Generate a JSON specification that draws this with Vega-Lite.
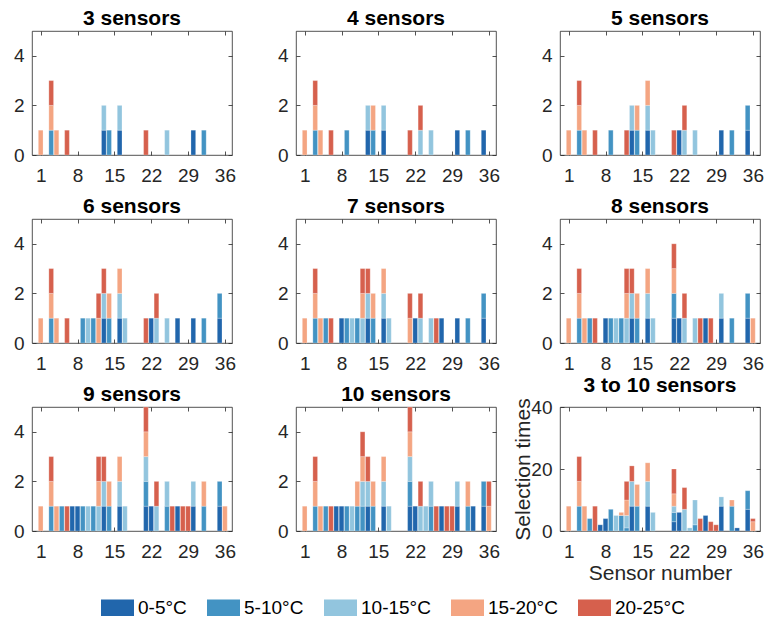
{
  "$schema": "https://vega.github.io/schema/vega-lite/v6.json",
  "padding": {"left": 13, "top": 7, "right": 4, "bottom": 4},
  "background": "white",
  "config": {
    "font": "Liberation Sans",
    "view": {"stroke": "#262626", "strokeWidth": 0.8},
    "axis": {"domain": false, "grid": false, "tickSize": -4, "tickColor": "#262626", "tickWidth": 0.8, "labelColor": "#262626", "labelFontSize": 19, "labelFlush": false, "labelOverlap": false, "titleFontSize": 21, "titleFontWeight": "normal", "titleColor": "#262626"},
    "axisX": {"labelPadding": 15, "titlePadding": 1},
    "axisY": {"labelPadding": 12, "titlePadding": -3},
    "title": {"fontSize": 21, "fontWeight": "bold", "color": "#000000", "offset": 2, "frame": "group"},
    "legend": {"orient": "none", "legendX": 69, "legendY": 560, "direction": "horizontal", "symbolType": "M-1,-0.5H1V0.5H-1Z", "symbolSize": 1089, "symbolStrokeWidth": 0, "symbolOpacity": 1, "labelFontSize": 19, "labelColor": "#000000", "labelOffset": 4, "columnPadding": 20}
  },
  "datasets": {
    "ranges": [
      {"t": "0-5°C", "k": 1}, {"t": "5-10°C", "k": 2}, {"t": "10-15°C", "k": 3}, {"t": "15-20°C", "k": 4}, {"t": "20-25°C", "k": 5}
    ],
    "sel": [
      {"n":3,"s":13,"t":"0-5°C","v":1},{"n":3,"s":16,"t":"0-5°C","v":1},{"n":3,"s":30,"t":"0-5°C","v":1},
      {"n":3,"s":3,"t":"5-10°C","v":1},{"n":3,"s":14,"t":"5-10°C","v":1},{"n":3,"s":32,"t":"5-10°C","v":1},
      {"n":3,"s":13,"t":"10-15°C","v":1},{"n":3,"s":16,"t":"10-15°C","v":1},{"n":3,"s":25,"t":"10-15°C","v":1},
      {"n":3,"s":1,"t":"15-20°C","v":1},{"n":3,"s":3,"t":"15-20°C","v":1},{"n":3,"s":4,"t":"15-20°C","v":1},
      {"n":3,"s":3,"t":"20-25°C","v":1},{"n":3,"s":6,"t":"20-25°C","v":1},{"n":3,"s":21,"t":"20-25°C","v":1},

      {"n":4,"s":13,"t":"0-5°C","v":1},{"n":4,"s":16,"t":"0-5°C","v":1},{"n":4,"s":30,"t":"0-5°C","v":1},{"n":4,"s":35,"t":"0-5°C","v":1},
      {"n":4,"s":3,"t":"5-10°C","v":1},{"n":4,"s":9,"t":"5-10°C","v":1},{"n":4,"s":14,"t":"5-10°C","v":1},{"n":4,"s":32,"t":"5-10°C","v":1},
      {"n":4,"s":13,"t":"10-15°C","v":1},{"n":4,"s":16,"t":"10-15°C","v":1},{"n":4,"s":23,"t":"10-15°C","v":1},{"n":4,"s":25,"t":"10-15°C","v":1},
      {"n":4,"s":1,"t":"15-20°C","v":1},{"n":4,"s":3,"t":"15-20°C","v":1},{"n":4,"s":4,"t":"15-20°C","v":1},{"n":4,"s":14,"t":"15-20°C","v":1},
      {"n":4,"s":3,"t":"20-25°C","v":1},{"n":4,"s":6,"t":"20-25°C","v":1},{"n":4,"s":21,"t":"20-25°C","v":1},{"n":4,"s":23,"t":"20-25°C","v":1},

      {"n":5,"s":13,"t":"0-5°C","v":1},{"n":5,"s":16,"t":"0-5°C","v":1},{"n":5,"s":22,"t":"0-5°C","v":1},{"n":5,"s":30,"t":"0-5°C","v":1},{"n":5,"s":35,"t":"0-5°C","v":1},
      {"n":5,"s":3,"t":"5-10°C","v":1},{"n":5,"s":9,"t":"5-10°C","v":1},{"n":5,"s":14,"t":"5-10°C","v":1},{"n":5,"s":32,"t":"5-10°C","v":1},{"n":5,"s":35,"t":"5-10°C","v":1},
      {"n":5,"s":13,"t":"10-15°C","v":1},{"n":5,"s":16,"t":"10-15°C","v":1},{"n":5,"s":17,"t":"10-15°C","v":1},{"n":5,"s":23,"t":"10-15°C","v":1},{"n":5,"s":25,"t":"10-15°C","v":1},
      {"n":5,"s":1,"t":"15-20°C","v":1},{"n":5,"s":3,"t":"15-20°C","v":1},{"n":5,"s":4,"t":"15-20°C","v":1},{"n":5,"s":14,"t":"15-20°C","v":1},{"n":5,"s":16,"t":"15-20°C","v":1},
      {"n":5,"s":3,"t":"20-25°C","v":1},{"n":5,"s":6,"t":"20-25°C","v":1},{"n":5,"s":12,"t":"20-25°C","v":1},{"n":5,"s":21,"t":"20-25°C","v":1},{"n":5,"s":23,"t":"20-25°C","v":1},

      {"n":6,"s":13,"t":"0-5°C","v":1},{"n":6,"s":16,"t":"0-5°C","v":1},{"n":6,"s":22,"t":"0-5°C","v":1},{"n":6,"s":27,"t":"0-5°C","v":1},{"n":6,"s":30,"t":"0-5°C","v":1},{"n":6,"s":35,"t":"0-5°C","v":1},
      {"n":6,"s":3,"t":"5-10°C","v":1},{"n":6,"s":9,"t":"5-10°C","v":1},{"n":6,"s":11,"t":"5-10°C","v":1},{"n":6,"s":14,"t":"5-10°C","v":1},{"n":6,"s":32,"t":"5-10°C","v":1},{"n":6,"s":35,"t":"5-10°C","v":1},
      {"n":6,"s":10,"t":"10-15°C","v":1},{"n":6,"s":13,"t":"10-15°C","v":1},{"n":6,"s":16,"t":"10-15°C","v":1},{"n":6,"s":17,"t":"10-15°C","v":1},{"n":6,"s":23,"t":"10-15°C","v":1},{"n":6,"s":25,"t":"10-15°C","v":1},
      {"n":6,"s":1,"t":"15-20°C","v":1},{"n":6,"s":3,"t":"15-20°C","v":1},{"n":6,"s":4,"t":"15-20°C","v":1},{"n":6,"s":12,"t":"15-20°C","v":1},{"n":6,"s":14,"t":"15-20°C","v":1},{"n":6,"s":16,"t":"15-20°C","v":1},
      {"n":6,"s":3,"t":"20-25°C","v":1},{"n":6,"s":6,"t":"20-25°C","v":1},{"n":6,"s":12,"t":"20-25°C","v":1},{"n":6,"s":13,"t":"20-25°C","v":1},{"n":6,"s":21,"t":"20-25°C","v":1},{"n":6,"s":23,"t":"20-25°C","v":1},

      {"n":7,"s":8,"t":"0-5°C","v":1},{"n":7,"s":13,"t":"0-5°C","v":1},{"n":7,"s":16,"t":"0-5°C","v":1},{"n":7,"s":22,"t":"0-5°C","v":1},{"n":7,"s":27,"t":"0-5°C","v":1},{"n":7,"s":30,"t":"0-5°C","v":1},{"n":7,"s":35,"t":"0-5°C","v":1},
      {"n":7,"s":3,"t":"5-10°C","v":1},{"n":7,"s":5,"t":"5-10°C","v":1},{"n":7,"s":9,"t":"5-10°C","v":1},{"n":7,"s":11,"t":"5-10°C","v":1},{"n":7,"s":14,"t":"5-10°C","v":1},{"n":7,"s":32,"t":"5-10°C","v":1},{"n":7,"s":35,"t":"5-10°C","v":1},
      {"n":7,"s":10,"t":"10-15°C","v":1},{"n":7,"s":12,"t":"10-15°C","v":1},{"n":7,"s":13,"t":"10-15°C","v":1},{"n":7,"s":16,"t":"10-15°C","v":1},{"n":7,"s":17,"t":"10-15°C","v":1},{"n":7,"s":23,"t":"10-15°C","v":1},{"n":7,"s":25,"t":"10-15°C","v":1},
      {"n":7,"s":1,"t":"15-20°C","v":1},{"n":7,"s":3,"t":"15-20°C","v":1},{"n":7,"s":4,"t":"15-20°C","v":1},{"n":7,"s":12,"t":"15-20°C","v":1},{"n":7,"s":14,"t":"15-20°C","v":1},{"n":7,"s":16,"t":"15-20°C","v":1},{"n":7,"s":21,"t":"15-20°C","v":1},
      {"n":7,"s":3,"t":"20-25°C","v":1},{"n":7,"s":6,"t":"20-25°C","v":1},{"n":7,"s":12,"t":"20-25°C","v":1},{"n":7,"s":13,"t":"20-25°C","v":1},{"n":7,"s":21,"t":"20-25°C","v":1},{"n":7,"s":23,"t":"20-25°C","v":1},{"n":7,"s":26,"t":"20-25°C","v":1},

      {"n":8,"s":8,"t":"0-5°C","v":1},{"n":8,"s":13,"t":"0-5°C","v":1},{"n":8,"s":16,"t":"0-5°C","v":1},{"n":8,"s":21,"t":"0-5°C","v":1},{"n":8,"s":22,"t":"0-5°C","v":1},{"n":8,"s":27,"t":"0-5°C","v":1},{"n":8,"s":30,"t":"0-5°C","v":1},{"n":8,"s":35,"t":"0-5°C","v":1},
      {"n":8,"s":3,"t":"5-10°C","v":1},{"n":8,"s":5,"t":"5-10°C","v":1},{"n":8,"s":9,"t":"5-10°C","v":1},{"n":8,"s":11,"t":"5-10°C","v":1},{"n":8,"s":14,"t":"5-10°C","v":1},{"n":8,"s":21,"t":"5-10°C","v":1},{"n":8,"s":32,"t":"5-10°C","v":1},{"n":8,"s":35,"t":"5-10°C","v":1},
      {"n":8,"s":10,"t":"10-15°C","v":1},{"n":8,"s":12,"t":"10-15°C","v":1},{"n":8,"s":13,"t":"10-15°C","v":1},{"n":8,"s":16,"t":"10-15°C","v":1},{"n":8,"s":17,"t":"10-15°C","v":1},{"n":8,"s":23,"t":"10-15°C","v":1},{"n":8,"s":25,"t":"10-15°C","v":1},{"n":8,"s":30,"t":"10-15°C","v":1},
      {"n":8,"s":1,"t":"15-20°C","v":1},{"n":8,"s":3,"t":"15-20°C","v":1},{"n":8,"s":4,"t":"15-20°C","v":1},{"n":8,"s":12,"t":"15-20°C","v":1},{"n":8,"s":14,"t":"15-20°C","v":1},{"n":8,"s":16,"t":"15-20°C","v":1},{"n":8,"s":21,"t":"15-20°C","v":1},{"n":8,"s":36,"t":"15-20°C","v":1},
      {"n":8,"s":3,"t":"20-25°C","v":1},{"n":8,"s":6,"t":"20-25°C","v":1},{"n":8,"s":12,"t":"20-25°C","v":1},{"n":8,"s":13,"t":"20-25°C","v":1},{"n":8,"s":21,"t":"20-25°C","v":1},{"n":8,"s":23,"t":"20-25°C","v":1},{"n":8,"s":26,"t":"20-25°C","v":1},{"n":8,"s":28,"t":"20-25°C","v":1},

      {"n":9,"s":7,"t":"0-5°C","v":1},{"n":9,"s":8,"t":"0-5°C","v":1},{"n":9,"s":13,"t":"0-5°C","v":1},{"n":9,"s":16,"t":"0-5°C","v":1},{"n":9,"s":21,"t":"0-5°C","v":1},{"n":9,"s":22,"t":"0-5°C","v":1},{"n":9,"s":27,"t":"0-5°C","v":1},{"n":9,"s":30,"t":"0-5°C","v":1},{"n":9,"s":35,"t":"0-5°C","v":1},
      {"n":9,"s":3,"t":"5-10°C","v":1},{"n":9,"s":5,"t":"5-10°C","v":1},{"n":9,"s":9,"t":"5-10°C","v":1},{"n":9,"s":11,"t":"5-10°C","v":1},{"n":9,"s":14,"t":"5-10°C","v":1},{"n":9,"s":21,"t":"5-10°C","v":1},{"n":9,"s":25,"t":"5-10°C","v":1},{"n":9,"s":32,"t":"5-10°C","v":1},{"n":9,"s":35,"t":"5-10°C","v":1},
      {"n":9,"s":10,"t":"10-15°C","v":1},{"n":9,"s":12,"t":"10-15°C","v":1},{"n":9,"s":13,"t":"10-15°C","v":1},{"n":9,"s":16,"t":"10-15°C","v":1},{"n":9,"s":17,"t":"10-15°C","v":1},{"n":9,"s":21,"t":"10-15°C","v":1},{"n":9,"s":23,"t":"10-15°C","v":1},{"n":9,"s":25,"t":"10-15°C","v":1},{"n":9,"s":30,"t":"10-15°C","v":1},
      {"n":9,"s":1,"t":"15-20°C","v":1},{"n":9,"s":3,"t":"15-20°C","v":1},{"n":9,"s":4,"t":"15-20°C","v":1},{"n":9,"s":12,"t":"15-20°C","v":1},{"n":9,"s":14,"t":"15-20°C","v":1},{"n":9,"s":16,"t":"15-20°C","v":1},{"n":9,"s":21,"t":"15-20°C","v":1},{"n":9,"s":32,"t":"15-20°C","v":1},{"n":9,"s":36,"t":"15-20°C","v":1},
      {"n":9,"s":3,"t":"20-25°C","v":1},{"n":9,"s":6,"t":"20-25°C","v":1},{"n":9,"s":12,"t":"20-25°C","v":1},{"n":9,"s":13,"t":"20-25°C","v":1},{"n":9,"s":21,"t":"20-25°C","v":1},{"n":9,"s":23,"t":"20-25°C","v":1},{"n":9,"s":26,"t":"20-25°C","v":1},{"n":9,"s":28,"t":"20-25°C","v":1},{"n":9,"s":29,"t":"20-25°C","v":1},

      {"n":10,"s":7,"t":"0-5°C","v":1},{"n":10,"s":8,"t":"0-5°C","v":1},{"n":10,"s":13,"t":"0-5°C","v":1},{"n":10,"s":16,"t":"0-5°C","v":1},{"n":10,"s":21,"t":"0-5°C","v":1},{"n":10,"s":22,"t":"0-5°C","v":1},{"n":10,"s":27,"t":"0-5°C","v":1},{"n":10,"s":30,"t":"0-5°C","v":1},{"n":10,"s":33,"t":"0-5°C","v":1},{"n":10,"s":35,"t":"0-5°C","v":1},
      {"n":10,"s":3,"t":"5-10°C","v":1},{"n":10,"s":5,"t":"5-10°C","v":1},{"n":10,"s":9,"t":"5-10°C","v":1},{"n":10,"s":11,"t":"5-10°C","v":1},{"n":10,"s":12,"t":"5-10°C","v":1},{"n":10,"s":14,"t":"5-10°C","v":1},{"n":10,"s":21,"t":"5-10°C","v":1},{"n":10,"s":25,"t":"5-10°C","v":1},{"n":10,"s":32,"t":"5-10°C","v":1},{"n":10,"s":35,"t":"5-10°C","v":1},
      {"n":10,"s":10,"t":"10-15°C","v":1},{"n":10,"s":12,"t":"10-15°C","v":1},{"n":10,"s":13,"t":"10-15°C","v":1},{"n":10,"s":16,"t":"10-15°C","v":1},{"n":10,"s":17,"t":"10-15°C","v":1},{"n":10,"s":21,"t":"10-15°C","v":1},{"n":10,"s":23,"t":"10-15°C","v":1},{"n":10,"s":24,"t":"10-15°C","v":1},{"n":10,"s":25,"t":"10-15°C","v":1},{"n":10,"s":30,"t":"10-15°C","v":1},
      {"n":10,"s":1,"t":"15-20°C","v":1},{"n":10,"s":3,"t":"15-20°C","v":1},{"n":10,"s":4,"t":"15-20°C","v":1},{"n":10,"s":11,"t":"15-20°C","v":1},{"n":10,"s":12,"t":"15-20°C","v":1},{"n":10,"s":14,"t":"15-20°C","v":1},{"n":10,"s":16,"t":"15-20°C","v":1},{"n":10,"s":21,"t":"15-20°C","v":1},{"n":10,"s":32,"t":"15-20°C","v":1},{"n":10,"s":36,"t":"15-20°C","v":1},
      {"n":10,"s":3,"t":"20-25°C","v":1},{"n":10,"s":6,"t":"20-25°C","v":1},{"n":10,"s":12,"t":"20-25°C","v":1},{"n":10,"s":13,"t":"20-25°C","v":1},{"n":10,"s":21,"t":"20-25°C","v":1},{"n":10,"s":23,"t":"20-25°C","v":1},{"n":10,"s":26,"t":"20-25°C","v":1},{"n":10,"s":28,"t":"20-25°C","v":1},{"n":10,"s":29,"t":"20-25°C","v":1},{"n":10,"s":36,"t":"20-25°C","v":1}
    ],
    "total": [
      {"s":1,"t":"15-20°C","v":8},
      {"s":3,"t":"5-10°C","v":8},{"s":3,"t":"15-20°C","v":8},{"s":3,"t":"20-25°C","v":8},
      {"s":4,"t":"15-20°C","v":8},
      {"s":5,"t":"5-10°C","v":4},
      {"s":6,"t":"20-25°C","v":8},
      {"s":7,"t":"0-5°C","v":2},
      {"s":8,"t":"0-5°C","v":4},
      {"s":9,"t":"5-10°C","v":7},
      {"s":10,"t":"10-15°C","v":5},
      {"s":11,"t":"5-10°C","v":5},{"s":11,"t":"15-20°C","v":1},
      {"s":12,"t":"5-10°C","v":1},{"s":12,"t":"10-15°C","v":4},{"s":12,"t":"15-20°C","v":5},{"s":12,"t":"20-25°C","v":6},
      {"s":13,"t":"0-5°C","v":8},{"s":13,"t":"10-15°C","v":8},{"s":13,"t":"20-25°C","v":5},
      {"s":14,"t":"5-10°C","v":8},{"s":14,"t":"15-20°C","v":7},
      {"s":16,"t":"0-5°C","v":8},{"s":16,"t":"10-15°C","v":8},{"s":16,"t":"15-20°C","v":6},
      {"s":17,"t":"10-15°C","v":6},
      {"s":21,"t":"0-5°C","v":3},{"s":21,"t":"5-10°C","v":3},{"s":21,"t":"10-15°C","v":2},{"s":21,"t":"15-20°C","v":4},{"s":21,"t":"20-25°C","v":8},
      {"s":22,"t":"0-5°C","v":6},
      {"s":23,"t":"10-15°C","v":7},{"s":23,"t":"20-25°C","v":7},
      {"s":24,"t":"10-15°C","v":1},
      {"s":25,"t":"5-10°C","v":2},{"s":25,"t":"10-15°C","v":8},
      {"s":26,"t":"20-25°C","v":4},
      {"s":27,"t":"0-5°C","v":5},
      {"s":28,"t":"20-25°C","v":3},
      {"s":29,"t":"20-25°C","v":2},
      {"s":30,"t":"0-5°C","v":8},{"s":30,"t":"10-15°C","v":3},
      {"s":32,"t":"5-10°C","v":8},{"s":32,"t":"15-20°C","v":2},
      {"s":33,"t":"0-5°C","v":1},
      {"s":35,"t":"0-5°C","v":7},{"s":35,"t":"5-10°C","v":6},
      {"s":36,"t":"15-20°C","v":3},{"s":36,"t":"20-25°C","v":1}
    ]
  },
  "columns": 3,
  "spacing": 64,
  "bounds": "flush",
  "resolve": {"scale": {"color": "shared"}, "legend": {"color": "shared"}},
  "concat": [
    {"width": 200, "height": 124, "title": "3 sensors", "data": {"name": "sel"},
     "transform": [{"filter": "datum.n == 3"}, {"lookup": "t", "from": {"data": {"name": "ranges"}, "key": "t", "fields": ["k"]}}],
     "layer": [
      {"mark": {"type": "bar", "size": 4.7, "stroke": "white", "strokeWidth": 0.4, "strokeOpacity": 0.6},
       "encoding": {
        "x": {"field": "s", "type": "quantitative", "scale": {"domain": [0.3, 36.4], "nice": false, "zero": false}, "axis": {"values": [1, 8, 15, 22, 29, 36], "title": null}},
        "y": {"field": "v", "type": "quantitative", "scale": {"domain": [0, 5], "nice": false}, "axis": {"values": [0, 2, 4], "title": null}},
        "order": {"field": "k", "type": "quantitative", "sort": "ascending"},
        "color": {"field": "t", "type": "nominal", "sort": ["0-5°C", "5-10°C", "10-15°C", "15-20°C", "20-25°C"], "scale": {"domain": ["0-5°C", "5-10°C", "10-15°C", "15-20°C", "20-25°C"], "range": ["#2166ac", "#4393c3", "#92c5de", "#f4a582", "#d6604d"]}, "title": null}}},
      {"mark": {"type": "bar", "opacity": 0},
       "encoding": {
        "x": {"field": "s", "type": "quantitative", "scale": {"domain": [0.3, 36.4], "nice": false, "zero": false}, "axis": {"orient": "top", "values": [1, 8, 15, 22, 29, 36], "labels": false, "title": null}},
        "y": {"field": "v", "type": "quantitative", "scale": {"domain": [0, 5], "nice": false}, "axis": {"orient": "right", "values": [0, 2, 4], "labels": false, "title": null}}}}
     ],
     "resolve": {"axis": {"x": "independent", "y": "independent"}}},

    {"width": 200, "height": 124, "title": "4 sensors", "data": {"name": "sel"},
     "transform": [{"filter": "datum.n == 4"}, {"lookup": "t", "from": {"data": {"name": "ranges"}, "key": "t", "fields": ["k"]}}],
     "layer": [
      {"mark": {"type": "bar", "size": 4.7, "stroke": "white", "strokeWidth": 0.4, "strokeOpacity": 0.6},
       "encoding": {
        "x": {"field": "s", "type": "quantitative", "scale": {"domain": [0.3, 36.4], "nice": false, "zero": false}, "axis": {"values": [1, 8, 15, 22, 29, 36], "title": null}},
        "y": {"field": "v", "type": "quantitative", "scale": {"domain": [0, 5], "nice": false}, "axis": {"values": [0, 2, 4], "title": null}},
        "order": {"field": "k", "type": "quantitative", "sort": "ascending"},
        "color": {"field": "t", "type": "nominal", "sort": ["0-5°C", "5-10°C", "10-15°C", "15-20°C", "20-25°C"], "scale": {"domain": ["0-5°C", "5-10°C", "10-15°C", "15-20°C", "20-25°C"], "range": ["#2166ac", "#4393c3", "#92c5de", "#f4a582", "#d6604d"]}, "title": null}}},
      {"mark": {"type": "bar", "opacity": 0},
       "encoding": {
        "x": {"field": "s", "type": "quantitative", "scale": {"domain": [0.3, 36.4], "nice": false, "zero": false}, "axis": {"orient": "top", "values": [1, 8, 15, 22, 29, 36], "labels": false, "title": null}},
        "y": {"field": "v", "type": "quantitative", "scale": {"domain": [0, 5], "nice": false}, "axis": {"orient": "right", "values": [0, 2, 4], "labels": false, "title": null}}}}
     ],
     "resolve": {"axis": {"x": "independent", "y": "independent"}}},

    {"width": 200, "height": 124, "title": "5 sensors", "data": {"name": "sel"},
     "transform": [{"filter": "datum.n == 5"}, {"lookup": "t", "from": {"data": {"name": "ranges"}, "key": "t", "fields": ["k"]}}],
     "layer": [
      {"mark": {"type": "bar", "size": 4.7, "stroke": "white", "strokeWidth": 0.4, "strokeOpacity": 0.6},
       "encoding": {
        "x": {"field": "s", "type": "quantitative", "scale": {"domain": [0.3, 36.4], "nice": false, "zero": false}, "axis": {"values": [1, 8, 15, 22, 29, 36], "title": null}},
        "y": {"field": "v", "type": "quantitative", "scale": {"domain": [0, 5], "nice": false}, "axis": {"values": [0, 2, 4], "title": null}},
        "order": {"field": "k", "type": "quantitative", "sort": "ascending"},
        "color": {"field": "t", "type": "nominal", "sort": ["0-5°C", "5-10°C", "10-15°C", "15-20°C", "20-25°C"], "scale": {"domain": ["0-5°C", "5-10°C", "10-15°C", "15-20°C", "20-25°C"], "range": ["#2166ac", "#4393c3", "#92c5de", "#f4a582", "#d6604d"]}, "title": null}}},
      {"mark": {"type": "bar", "opacity": 0},
       "encoding": {
        "x": {"field": "s", "type": "quantitative", "scale": {"domain": [0.3, 36.4], "nice": false, "zero": false}, "axis": {"orient": "top", "values": [1, 8, 15, 22, 29, 36], "labels": false, "title": null}},
        "y": {"field": "v", "type": "quantitative", "scale": {"domain": [0, 5], "nice": false}, "axis": {"orient": "right", "values": [0, 2, 4], "labels": false, "title": null}}}}
     ],
     "resolve": {"axis": {"x": "independent", "y": "independent"}}},

    {"width": 200, "height": 124, "title": "6 sensors", "data": {"name": "sel"},
     "transform": [{"filter": "datum.n == 6"}, {"lookup": "t", "from": {"data": {"name": "ranges"}, "key": "t", "fields": ["k"]}}],
     "layer": [
      {"mark": {"type": "bar", "size": 4.7, "stroke": "white", "strokeWidth": 0.4, "strokeOpacity": 0.6},
       "encoding": {
        "x": {"field": "s", "type": "quantitative", "scale": {"domain": [0.3, 36.4], "nice": false, "zero": false}, "axis": {"values": [1, 8, 15, 22, 29, 36], "title": null}},
        "y": {"field": "v", "type": "quantitative", "scale": {"domain": [0, 5], "nice": false}, "axis": {"values": [0, 2, 4], "title": null}},
        "order": {"field": "k", "type": "quantitative", "sort": "ascending"},
        "color": {"field": "t", "type": "nominal", "sort": ["0-5°C", "5-10°C", "10-15°C", "15-20°C", "20-25°C"], "scale": {"domain": ["0-5°C", "5-10°C", "10-15°C", "15-20°C", "20-25°C"], "range": ["#2166ac", "#4393c3", "#92c5de", "#f4a582", "#d6604d"]}, "title": null}}},
      {"mark": {"type": "bar", "opacity": 0},
       "encoding": {
        "x": {"field": "s", "type": "quantitative", "scale": {"domain": [0.3, 36.4], "nice": false, "zero": false}, "axis": {"orient": "top", "values": [1, 8, 15, 22, 29, 36], "labels": false, "title": null}},
        "y": {"field": "v", "type": "quantitative", "scale": {"domain": [0, 5], "nice": false}, "axis": {"orient": "right", "values": [0, 2, 4], "labels": false, "title": null}}}}
     ],
     "resolve": {"axis": {"x": "independent", "y": "independent"}}},

    {"width": 200, "height": 124, "title": "7 sensors", "data": {"name": "sel"},
     "transform": [{"filter": "datum.n == 7"}, {"lookup": "t", "from": {"data": {"name": "ranges"}, "key": "t", "fields": ["k"]}}],
     "layer": [
      {"mark": {"type": "bar", "size": 4.7, "stroke": "white", "strokeWidth": 0.4, "strokeOpacity": 0.6},
       "encoding": {
        "x": {"field": "s", "type": "quantitative", "scale": {"domain": [0.3, 36.4], "nice": false, "zero": false}, "axis": {"values": [1, 8, 15, 22, 29, 36], "title": null}},
        "y": {"field": "v", "type": "quantitative", "scale": {"domain": [0, 5], "nice": false}, "axis": {"values": [0, 2, 4], "title": null}},
        "order": {"field": "k", "type": "quantitative", "sort": "ascending"},
        "color": {"field": "t", "type": "nominal", "sort": ["0-5°C", "5-10°C", "10-15°C", "15-20°C", "20-25°C"], "scale": {"domain": ["0-5°C", "5-10°C", "10-15°C", "15-20°C", "20-25°C"], "range": ["#2166ac", "#4393c3", "#92c5de", "#f4a582", "#d6604d"]}, "title": null}}},
      {"mark": {"type": "bar", "opacity": 0},
       "encoding": {
        "x": {"field": "s", "type": "quantitative", "scale": {"domain": [0.3, 36.4], "nice": false, "zero": false}, "axis": {"orient": "top", "values": [1, 8, 15, 22, 29, 36], "labels": false, "title": null}},
        "y": {"field": "v", "type": "quantitative", "scale": {"domain": [0, 5], "nice": false}, "axis": {"orient": "right", "values": [0, 2, 4], "labels": false, "title": null}}}}
     ],
     "resolve": {"axis": {"x": "independent", "y": "independent"}}},

    {"width": 200, "height": 124, "title": "8 sensors", "data": {"name": "sel"},
     "transform": [{"filter": "datum.n == 8"}, {"lookup": "t", "from": {"data": {"name": "ranges"}, "key": "t", "fields": ["k"]}}],
     "layer": [
      {"mark": {"type": "bar", "size": 4.7, "stroke": "white", "strokeWidth": 0.4, "strokeOpacity": 0.6},
       "encoding": {
        "x": {"field": "s", "type": "quantitative", "scale": {"domain": [0.3, 36.4], "nice": false, "zero": false}, "axis": {"values": [1, 8, 15, 22, 29, 36], "title": null}},
        "y": {"field": "v", "type": "quantitative", "scale": {"domain": [0, 5], "nice": false}, "axis": {"values": [0, 2, 4], "title": null}},
        "order": {"field": "k", "type": "quantitative", "sort": "ascending"},
        "color": {"field": "t", "type": "nominal", "sort": ["0-5°C", "5-10°C", "10-15°C", "15-20°C", "20-25°C"], "scale": {"domain": ["0-5°C", "5-10°C", "10-15°C", "15-20°C", "20-25°C"], "range": ["#2166ac", "#4393c3", "#92c5de", "#f4a582", "#d6604d"]}, "title": null}}},
      {"mark": {"type": "bar", "opacity": 0},
       "encoding": {
        "x": {"field": "s", "type": "quantitative", "scale": {"domain": [0.3, 36.4], "nice": false, "zero": false}, "axis": {"orient": "top", "values": [1, 8, 15, 22, 29, 36], "labels": false, "title": null}},
        "y": {"field": "v", "type": "quantitative", "scale": {"domain": [0, 5], "nice": false}, "axis": {"orient": "right", "values": [0, 2, 4], "labels": false, "title": null}}}}
     ],
     "resolve": {"axis": {"x": "independent", "y": "independent"}}},

    {"width": 200, "height": 124, "title": "9 sensors", "data": {"name": "sel"},
     "transform": [{"filter": "datum.n == 9"}, {"lookup": "t", "from": {"data": {"name": "ranges"}, "key": "t", "fields": ["k"]}}],
     "layer": [
      {"mark": {"type": "bar", "size": 4.7, "stroke": "white", "strokeWidth": 0.4, "strokeOpacity": 0.6},
       "encoding": {
        "x": {"field": "s", "type": "quantitative", "scale": {"domain": [0.3, 36.4], "nice": false, "zero": false}, "axis": {"values": [1, 8, 15, 22, 29, 36], "title": null}},
        "y": {"field": "v", "type": "quantitative", "scale": {"domain": [0, 5], "nice": false}, "axis": {"values": [0, 2, 4], "title": null}},
        "order": {"field": "k", "type": "quantitative", "sort": "ascending"},
        "color": {"field": "t", "type": "nominal", "sort": ["0-5°C", "5-10°C", "10-15°C", "15-20°C", "20-25°C"], "scale": {"domain": ["0-5°C", "5-10°C", "10-15°C", "15-20°C", "20-25°C"], "range": ["#2166ac", "#4393c3", "#92c5de", "#f4a582", "#d6604d"]}, "title": null}}},
      {"mark": {"type": "bar", "opacity": 0},
       "encoding": {
        "x": {"field": "s", "type": "quantitative", "scale": {"domain": [0.3, 36.4], "nice": false, "zero": false}, "axis": {"orient": "top", "values": [1, 8, 15, 22, 29, 36], "labels": false, "title": null}},
        "y": {"field": "v", "type": "quantitative", "scale": {"domain": [0, 5], "nice": false}, "axis": {"orient": "right", "values": [0, 2, 4], "labels": false, "title": null}}}}
     ],
     "resolve": {"axis": {"x": "independent", "y": "independent"}}},

    {"width": 200, "height": 124, "title": "10 sensors", "data": {"name": "sel"},
     "transform": [{"filter": "datum.n == 10"}, {"lookup": "t", "from": {"data": {"name": "ranges"}, "key": "t", "fields": ["k"]}}],
     "layer": [
      {"mark": {"type": "bar", "size": 4.7, "stroke": "white", "strokeWidth": 0.4, "strokeOpacity": 0.6},
       "encoding": {
        "x": {"field": "s", "type": "quantitative", "scale": {"domain": [0.3, 36.4], "nice": false, "zero": false}, "axis": {"values": [1, 8, 15, 22, 29, 36], "title": null}},
        "y": {"field": "v", "type": "quantitative", "scale": {"domain": [0, 5], "nice": false}, "axis": {"values": [0, 2, 4], "title": null}},
        "order": {"field": "k", "type": "quantitative", "sort": "ascending"},
        "color": {"field": "t", "type": "nominal", "sort": ["0-5°C", "5-10°C", "10-15°C", "15-20°C", "20-25°C"], "scale": {"domain": ["0-5°C", "5-10°C", "10-15°C", "15-20°C", "20-25°C"], "range": ["#2166ac", "#4393c3", "#92c5de", "#f4a582", "#d6604d"]}, "title": null}}},
      {"mark": {"type": "bar", "opacity": 0},
       "encoding": {
        "x": {"field": "s", "type": "quantitative", "scale": {"domain": [0.3, 36.4], "nice": false, "zero": false}, "axis": {"orient": "top", "values": [1, 8, 15, 22, 29, 36], "labels": false, "title": null}},
        "y": {"field": "v", "type": "quantitative", "scale": {"domain": [0, 5], "nice": false}, "axis": {"orient": "right", "values": [0, 2, 4], "labels": false, "title": null}}}}
     ],
     "resolve": {"axis": {"x": "independent", "y": "independent"}}},

    {"width": 200, "height": 124, "title": "3 to 10 sensors", "data": {"name": "total"},
     "transform": [{"lookup": "t", "from": {"data": {"name": "ranges"}, "key": "t", "fields": ["k"]}}],
     "layer": [
      {"mark": {"type": "bar", "size": 4.7, "stroke": "white", "strokeWidth": 0.4, "strokeOpacity": 0.6},
       "encoding": {
        "x": {"field": "s", "type": "quantitative", "scale": {"domain": [0.3, 36.4], "nice": false, "zero": false}, "axis": {"values": [1, 8, 15, 22, 29, 36], "title": "Sensor number"}},
        "y": {"field": "v", "type": "quantitative", "scale": {"domain": [0, 40], "nice": false}, "axis": {"values": [0, 20, 40], "title": "Selection times"}},
        "order": {"field": "k", "type": "quantitative", "sort": "ascending"},
        "color": {"field": "t", "type": "nominal", "sort": ["0-5°C", "5-10°C", "10-15°C", "15-20°C", "20-25°C"], "scale": {"domain": ["0-5°C", "5-10°C", "10-15°C", "15-20°C", "20-25°C"], "range": ["#2166ac", "#4393c3", "#92c5de", "#f4a582", "#d6604d"]}, "title": null}}},
      {"mark": {"type": "bar", "opacity": 0},
       "encoding": {
        "x": {"field": "s", "type": "quantitative", "scale": {"domain": [0.3, 36.4], "nice": false, "zero": false}, "axis": {"orient": "top", "values": [1, 8, 15, 22, 29, 36], "labels": false, "title": null}},
        "y": {"field": "v", "type": "quantitative", "scale": {"domain": [0, 40], "nice": false}, "axis": {"orient": "right", "values": [0, 20, 40], "labels": false, "title": null}}}}
     ],
     "resolve": {"axis": {"x": "independent", "y": "independent"}}}
  ]
}
